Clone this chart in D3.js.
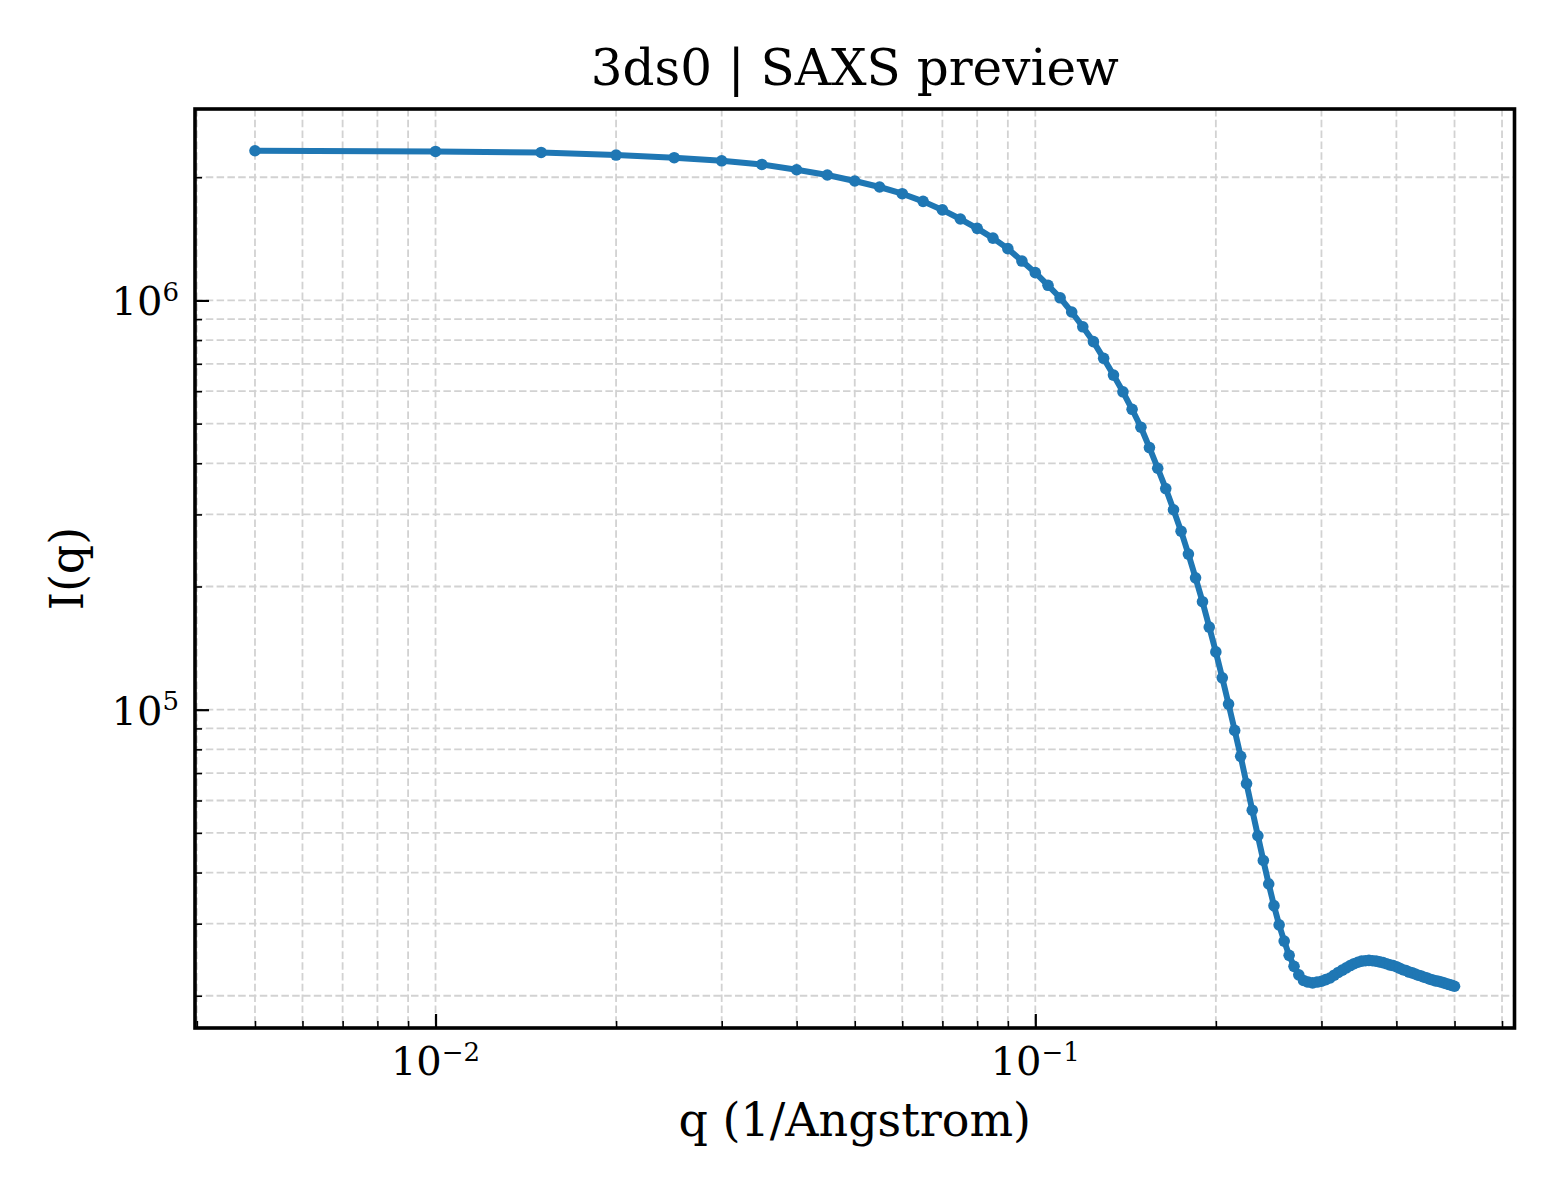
<!DOCTYPE html>
<html>
<head>
<meta charset="utf-8">
<script src="https://cdn.jsdelivr.net/npm/d3@7"></script>
<style>
  body { margin: 0; background: #fff; }
  svg { display: block; }
  text { font-family: "DejaVu Serif", "Liberation Serif", serif; fill: #000; }
</style>
</head>
<body>
<div id="chart"></div>
<script>

// scattering vector q (1/Angstrom)
var qValues = [
    0.005, 0.010, 0.015, 0.020, 0.025, 0.030, 0.035, 0.040, 0.045, 0.050,
    0.055, 0.060, 0.065, 0.070, 0.075, 0.080, 0.085, 0.090, 0.095, 0.100,
    0.105, 0.110, 0.115, 0.120, 0.125, 0.130, 0.135, 0.140, 0.145, 0.150,
    0.155, 0.160, 0.165, 0.170, 0.175, 0.180, 0.185, 0.190, 0.195, 0.200,
    0.205, 0.210, 0.215, 0.220, 0.225, 0.230, 0.235, 0.240, 0.245, 0.250,
    0.255, 0.260, 0.265, 0.270, 0.275, 0.280, 0.285, 0.290, 0.295, 0.300,
    0.305, 0.310, 0.315, 0.320, 0.325, 0.330, 0.335, 0.340, 0.345, 0.350,
    0.355, 0.360, 0.365, 0.370, 0.375, 0.380, 0.385, 0.390, 0.395, 0.400,
    0.405, 0.410, 0.415, 0.420, 0.425, 0.430, 0.435, 0.440, 0.445, 0.450,
    0.455, 0.460, 0.465, 0.470, 0.475, 0.480, 0.485, 0.490, 0.495, 0.500
];

// intensity I(q)
var intensity = [
    2.321e6, 2.312e6, 2.299e6, 2.266e6, 2.232e6, 2.194e6, 2.149e6, 2.086e6, 2.025e6, 1.958e6,
    1.893e6, 1.823e6, 1.746e6, 1.664e6, 1.581e6, 1.500e6, 1.420e6, 1.338e6, 1.248e6, 1.169e6,
    1.089e6, 1.015e6, 9.37e5, 8.62e5, 7.93e5, 7.22e5, 6.57e5, 5.98e5, 5.42e5, 4.90e5,
    4.37e5, 3.89e5, 3.47e5, 3.08e5, 2.73e5, 2.40e5, 2.10e5, 1.836e5, 1.592e5, 1.384e5,
    1.196e5, 1.032e5, 8.90e4, 7.69e4, 6.60e4, 5.68e4, 4.92e4, 4.28e4, 3.75e4, 3.32e4,
    2.98e4, 2.72e4, 2.51e4, 2.36e4, 2.25e4, 2.18e4, 2.16e4, 2.15e4, 2.16e4, 2.17e4,
    2.19e4, 2.21e4, 2.245e4, 2.28e4, 2.31e4, 2.34e4, 2.37e4, 2.395e4, 2.415e4, 2.43e4,
    2.435e4, 2.44e4, 2.435e4, 2.43e4, 2.42e4, 2.41e4, 2.395e4, 2.38e4, 2.37e4, 2.355e4,
    2.335e4, 2.315e4, 2.305e4, 2.285e4, 2.275e4, 2.26e4, 2.245e4, 2.235e4, 2.22e4, 2.21e4,
    2.195e4, 2.185e4, 2.175e4, 2.17e4, 2.16e4, 2.15e4, 2.14e4, 2.13e4, 2.12e4, 2.11e4
];

// major tick exponents shown on each axis
var xMajorExp = [-2, -1];
var yMajorExp = [5, 6];

var titleText = "3ds0 | SAXS preview";
var xLabelText = "q (1/Angstrom)";
var yLabelText = "I(q)";

var W = 1560, H = 1200;
var margin = {top: 109, right: 45.5, bottom: 172, left: 195};
var width = W - margin.left - margin.right,
    height = H - margin.top - margin.bottom;

var data = qValues.map(function(q, i) { return {q: q, I: intensity[i]}; });

// 5% padding in log space, like matplotlib autoscale
function logPad(ext) {
    var a = Math.log10(ext[0]), b = Math.log10(ext[1]);
    var p = (b - a) * 0.05;
    return [Math.pow(10, a - p), Math.pow(10, b + p)];
}

var x = d3.scaleLog().domain(logPad(d3.extent(qValues))).range([0, width]);
var y = d3.scaleLog().domain(logPad(d3.extent(intensity))).range([height, 0]);

// all 1..9 x 10^k values inside a domain
function logTicks(dom) {
    var out = [];
    for (var e = Math.floor(Math.log10(dom[0])); e <= Math.ceil(Math.log10(dom[1])); e++) {
        for (var m = 1; m < 10; m++) {
            var v = m * Math.pow(10, e);
            if (v >= dom[0] && v <= dom[1]) out.push({v: v, major: m === 1, e: e});
        }
    }
    return out;
}
var xTicks = logTicks(x.domain()),
    yTicks = logTicks(y.domain());

var svg = d3.select("#chart").append("svg")
    .attr("width", W)
    .attr("height", H);

var g = svg.append("g")
    .attr("transform", "translate(" + margin.left + "," + margin.top + ")");

/***** grid *****/
var grid = g.append("g").attr("class", "grid");
grid.selectAll("line.gx")
    .data(xTicks)
    .enter().append("line")
    .attr("x1", function(d) { return x(d.v); })
    .attr("x2", function(d) { return x(d.v); })
    .attr("y1", 0)
    .attr("y2", height);
grid.selectAll("line.gy")
    .data(yTicks)
    .enter().append("line")
    .attr("x1", 0)
    .attr("x2", width)
    .attr("y1", function(d) { return y(d.v); })
    .attr("y2", function(d) { return y(d.v); });
grid.selectAll("line")
    .style("stroke", "#d2d2d2")
    .style("stroke-width", 1.8)
    .style("stroke-dasharray", "7.5,3.3");

/***** curve *****/
var line = d3.line()
    .x(function(d) { return x(d.q); })
    .y(function(d) { return y(d.I); });

g.append("path")
    .datum(data)
    .attr("d", line)
    .style("fill", "none")
    .style("stroke", "#1f77b4")
    .style("stroke-width", 6)
    .style("stroke-linejoin", "round");

g.selectAll("circle.pt")
    .data(data)
    .enter().append("circle")
    .attr("class", "pt")
    .attr("cx", function(d) { return x(d.q); })
    .attr("cy", function(d) { return y(d.I); })
    .attr("r", 5.8)
    .style("fill", "#1f77b4");

/***** axes, ticks point inward *****/
var xMaj = xTicks.filter(function(d) { return d.major; }).map(function(d) { return d.v; }),
    xMin = xTicks.filter(function(d) { return !d.major; }).map(function(d) { return d.v; }),
    yMaj = yTicks.filter(function(d) { return d.major; }).map(function(d) { return d.v; }),
    yMin = yTicks.filter(function(d) { return !d.major; }).map(function(d) { return d.v; });

function styleAxis(sel, w) {
    sel.select(".domain").remove();
    sel.selectAll(".tick line").style("stroke", "#000").style("stroke-width", w);
    sel.selectAll(".tick text").remove();
}

g.append("g")
    .attr("transform", "translate(0," + height + ")")
    .call(d3.axisBottom(x).tickValues(xMin).tickSize(-7))
    .call(styleAxis, 1.6);
g.append("g")
    .attr("transform", "translate(0," + height + ")")
    .call(d3.axisBottom(x).tickValues(xMaj).tickSize(-14))
    .call(styleAxis, 2.2);
g.append("g")
    .call(d3.axisLeft(y).tickValues(yMin).tickSize(-7))
    .call(styleAxis, 1.6);
g.append("g")
    .call(d3.axisLeft(y).tickValues(yMaj).tickSize(-14))
    .call(styleAxis, 2.2);

// tick labels as 10^n with superscript
function powerLabel(sel, exp) {
    sel.append("tspan").text("10");
    sel.append("tspan")
        .attr("dy", "-0.55em")
        .style("font-size", "26px")
        .text(exp < 0 ? "\u2212" + (-exp) : String(exp));
}

xMajorExp.forEach(function(e) {
    var t = g.append("text")
        .attr("x", x(Math.pow(10, e)))
        .attr("y", height + 47)
        .attr("text-anchor", "middle")
        .style("font-size", "40px");
    powerLabel(t, e);
});

yMajorExp.forEach(function(e) {
    var t = g.append("text")
        .attr("x", -16)
        .attr("y", y(Math.pow(10, e)) + 15)
        .attr("text-anchor", "end")
        .style("font-size", "40px");
    powerLabel(t, e);
});

// frame
g.append("rect")
    .attr("width", width)
    .attr("height", height)
    .style("fill", "none")
    .style("stroke", "#000")
    .style("stroke-width", 3.6);

/***** labels *****/
svg.append("text")
    .attr("x", margin.left + width / 2)
    .attr("y", 85)
    .attr("text-anchor", "middle")
    .style("font-size", "50px")
    .text(titleText);

svg.append("text")
    .attr("x", margin.left + width / 2)
    .attr("y", 1136)
    .attr("text-anchor", "middle")
    .style("font-size", "46px")
    .text(xLabelText);

svg.append("text")
    .attr("transform", "translate(83," + (margin.top + height / 2) + ") rotate(-90)")
    .attr("text-anchor", "middle")
    .style("font-size", "46px")
    .text(yLabelText);

</script>
</body>
</html>
